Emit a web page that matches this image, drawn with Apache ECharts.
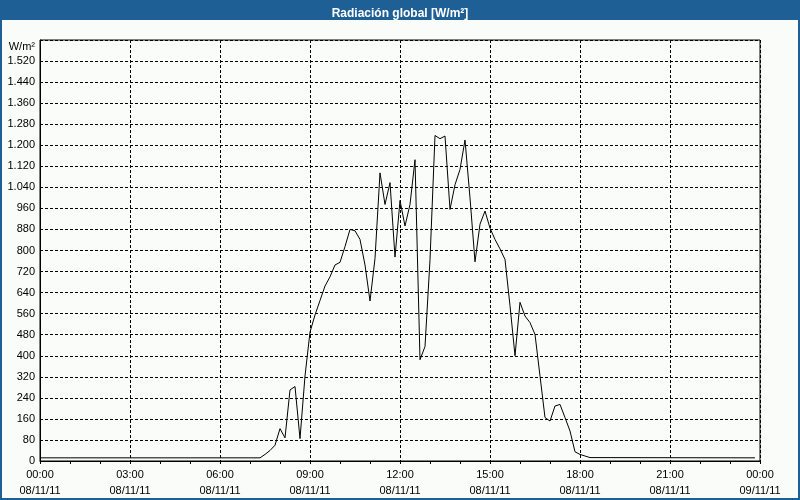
<!DOCTYPE html>
<html><head><meta charset="utf-8">
<script src="https://cdn.jsdelivr.net/npm/echarts@6/dist/echarts.min.js"></script>
<style>html,body{margin:0;padding:0;background:#fafcfa}#c{width:800px;height:500px}</style>
</head><body><div id="c"></div><script>
// Reading times (HH:MM, 08/11/11) and global radiation values (W/m²)
const times = ['00:00','07:20','07:30','07:40','07:50','08:00','08:10','08:20','08:30','08:40','08:50',
  '09:00','09:10','09:20','09:30','09:40','09:50','10:00','10:10','10:20','10:30','10:40','10:50',
  '11:00','11:10','11:20','11:30','11:40','11:50','12:00','12:10','12:20','12:30','12:40','12:50',
  '13:00','13:10','13:20','13:30','13:40','13:50','14:00','14:10','14:20','14:30','14:40','14:50',
  '15:00','15:10','15:20','15:30','15:40','15:50','16:00','16:10','16:20','16:30','16:40','16:50',
  '17:00','17:10','17:20','17:30','17:40','17:50','18:00','18:10','18:20','23:50'];
const values = [12,12,25,40,60,123,88,270,283,85,323,
  490,555,610,665,700,745,755,815,880,875,842,745,
  608,770,1095,975,1058,775,990,893,975,1145,385,435,
  765,1237,1225,1235,956,1050,1108,1220,1000,757,900,950,
  885,842,806,766,590,400,603,551,526,481,323,165,
  152,209,215,165,114,35,25,19,13,12];
const xTickHours = [0,3,6,9,12,15,18,21,24];
const xTickDates = ['08/11/11','08/11/11','08/11/11','08/11/11','08/11/11','08/11/11','08/11/11','08/11/11','09/11/11'];
const yUnit = 'W/m²';
const titleText = 'Radiación global [W/m²]';

const toHours = t => { const p = t.split(':'); return +p[0] + (+p[1]) / 60; };
const pad = n => String(n % 24).padStart(2, '0');
const fmtY = v => v >= 1000 ? Math.floor(v / 1000) + '.' + String(v % 1000).padStart(3, '0') : String(v);
const BLUE = '#1e6096';
const FONT = 'Liberation Sans';

const chart = echarts.init(document.getElementById('c'), null, {renderer: 'canvas'});
chart.setOption({
  animation: false,
  backgroundColor: '#fafcfa',
  title: {text: titleText, left: 'center', top: 3,
    textStyle: {color: '#fff', fontSize: 12, fontWeight: 'bold', fontFamily: FONT}},
  grid: {left: 40, right: 40, top: 40, bottom: 39, show: true, borderColor: '#000', borderWidth: 1,
    backgroundColor: 'transparent', containLabel: false, outerBoundsMode: 'none'},
  xAxis: {type: 'value', min: 0, max: 24, interval: 3,
    axisLine: {show: true, lineStyle: {color: '#000'}},
    axisTick: {show: true, length: 3, inside: false, lineStyle: {color: '#000'}},
    minorTick: {show: true, splitNumber: 3, length: 3, lineStyle: {color: '#000'}},
    splitLine: {show: true, lineStyle: {color: '#000', type: [3, 2], width: 1}},
    axisLabel: {margin: 6, color: '#000', fontSize: 11, fontFamily: FONT, lineHeight: 16,
      formatter: v => { const i = xTickHours.indexOf(v); return pad(v) + ':00\n' + (i >= 0 ? xTickDates[i] : ''); }}
  },
  yAxis: {type: 'value', min: 0, max: 1600, interval: 80,
    axisLine: {show: true, lineStyle: {color: '#000'}},
    axisTick: {show: false},
    splitLine: {show: true, lineStyle: {color: '#000', type: [3, 2], width: 1}},
    axisLabel: {margin: 5, color: '#000', fontSize: 11, fontFamily: FONT,
      formatter: v => v === 1600 ? '' : fmtY(v)}
  },
  graphic: [
    {type: 'rect', z: -1, shape: {x: 0, y: 0, width: 800, height: 20}, style: {fill: BLUE}},
    {type: 'rect', z: 100, shape: {x: 1, y: 1, width: 798, height: 498}, style: {fill: 'none', stroke: BLUE, lineWidth: 2}},
    {type: 'text', x: 35, y: 47, style: {text: yUnit, align: 'right', verticalAlign: 'middle', fill: '#000', font: '11px ' + FONT}}
  ],
  series: [{type: 'line', showSymbol: false, symbol: 'none',
    lineStyle: {color: '#000', width: 1}, data: times.map((t, i) => [toHours(t), values[i]])}]
});
</script></body></html>
